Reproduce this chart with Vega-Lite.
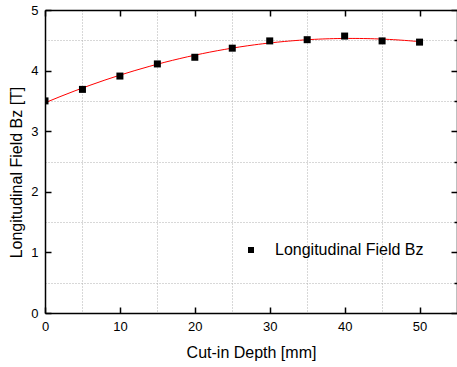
{
  "$schema": "https://vega.github.io/schema/vega-lite/v6.json",
  "width": 412,
  "height": 303,
  "autosize": "none",
  "padding": {"left": 45, "top": 10, "right": 0, "bottom": 54},
  "background": "white",
  "config": {"view": {"stroke": null}, "font": "Liberation Sans"},
  "data": {
    "values": [
      {"depth": 0, "bz": 3.5, "series": "Longitudinal Field Bz"},
      {"depth": 5, "bz": 3.69, "series": "Longitudinal Field Bz"},
      {"depth": 10, "bz": 3.91, "series": "Longitudinal Field Bz"},
      {"depth": 15, "bz": 4.11, "series": "Longitudinal Field Bz"},
      {"depth": 20, "bz": 4.22, "series": "Longitudinal Field Bz"},
      {"depth": 25, "bz": 4.37, "series": "Longitudinal Field Bz"},
      {"depth": 30, "bz": 4.49, "series": "Longitudinal Field Bz"},
      {"depth": 35, "bz": 4.51, "series": "Longitudinal Field Bz"},
      {"depth": 40, "bz": 4.57, "series": "Longitudinal Field Bz"},
      {"depth": 45, "bz": 4.49, "series": "Longitudinal Field Bz"},
      {"depth": 50, "bz": 4.47, "series": "Longitudinal Field Bz"}
    ]
  },
  "layer": [
    {
      "transform": [{"regression": "bz", "on": "depth", "method": "poly", "order": 2}],
      "mark": {"type": "line", "color": "#ff0000", "strokeWidth": 1},
      "encoding": {
        "x": {
          "field": "depth", "type": "quantitative",
          "scale": {"domain": [0, 55], "nice": false},
          "axis": {
            "orient": "top", "values": [0, 10, 20, 30, 40, 50], "labels": false, "grid": false,
            "ticks": true, "tickSize": -6, "tickColor": "black", "tickWidth": 1.5,
            "domainColor": "black", "domainWidth": 1.5, "title": null
          }
        },
        "y": {
          "field": "bz", "type": "quantitative",
          "scale": {"domain": [0, 5], "nice": false},
          "axis": {
            "orient": "right", "values": [0, 0.5, 1, 1.5, 2, 2.5, 3, 3.5, 4, 4.5, 5], "labels": false,
            "grid": true, "gridColor": "#b0b0b0", "gridDash": [1, 2], "gridWidth": 1,
            "gridOpacity": {"condition": {"test": "datum.value * 2 % 2 === 1", "value": 1}, "value": 0},
            "ticks": true,
            "tickSize": {"condition": {"test": "datum.value * 2 % 2 === 0", "value": -6}, "value": -3},
            "tickColor": "black", "tickWidth": 1.5,
            "domainColor": "black", "domainWidth": 1.5, "title": null
          }
        }
      }
    },
    {
      "mark": {"type": "point", "shape": "square", "filled": true, "color": "black", "size": 49, "opacity": 1, "clip": true},
      "encoding": {
        "x": {
          "field": "depth", "type": "quantitative",
          "scale": {"domain": [0, 55], "nice": false},
          "axis": {
            "orient": "bottom", "values": [0, 5, 10, 15, 20, 25, 30, 35, 40, 45, 50, 55], "format": "d",
            "labelExpr": "datum.value % 10 === 0 && datum.value < 55 ? datum.label : ''",
            "grid": true, "gridColor": "#b0b0b0", "gridDash": [1, 2], "gridWidth": 1,
            "gridOpacity": {"condition": {"test": "datum.value % 10 === 5", "value": 1}, "value": 0},
            "tickOpacity": {"condition": {"test": "datum.value % 10 === 0", "value": 1}, "value": 0},
            "ticks": true, "tickSize": -6, "tickColor": "black", "tickWidth": 1.5,
            "domainColor": "black", "domainWidth": 1.5,
            "labelFontSize": 13, "labelColor": "black", "labelPadding": 13, "labelFont": "Liberation Sans", "labelFlush": false,
            "title": "Cut-in Depth [mm]", "titleFont": "Liberation Sans", "titleFontSize": 16, "titleFontWeight": "normal",
            "titleColor": "black", "titleX": 206, "titleY": 39, "titleBaseline": "middle", "titleAlign": "center"
          }
        },
        "y": {
          "field": "bz", "type": "quantitative",
          "scale": {"domain": [0, 5], "nice": false},
          "axis": {
            "orient": "left", "values": [0, 1, 2, 3, 4, 5], "format": "d",
            "grid": false,
            "ticks": true, "tickSize": -6, "tickColor": "black", "tickWidth": 1.5,
            "domainColor": "black", "domainWidth": 1.5,
            "labelFontSize": 13, "labelColor": "black", "labelPadding": 13, "labelFont": "Liberation Sans", "labelFlush": false,
            "title": "Longitudinal Field Bz [T]", "titleFont": "Liberation Sans", "titleFontSize": 16, "titleFontWeight": "normal",
            "titleColor": "black", "titleX": -29, "titleY": 162, "titleBaseline": "middle", "titleAlign": "center", "titleAngle": -90
          }
        },
        "shape": {
          "field": "series", "type": "nominal",
          "scale": {"range": ["square"]},
          "legend": {
            "orient": "none", "legendX": 198, "legendY": 232, "title": null,
            "labelFontSize": 16, "labelFont": "Liberation Sans", "labelColor": "black",
            "symbolSize": 36, "symbolFillColor": "black", "symbolStrokeColor": "black", "symbolStrokeWidth": 0,
            "labelOffset": 16, "padding": 0
          }
        }
      }
    }
  ],
  "resolve": {"axis": {"x": "independent", "y": "independent"}}
}
